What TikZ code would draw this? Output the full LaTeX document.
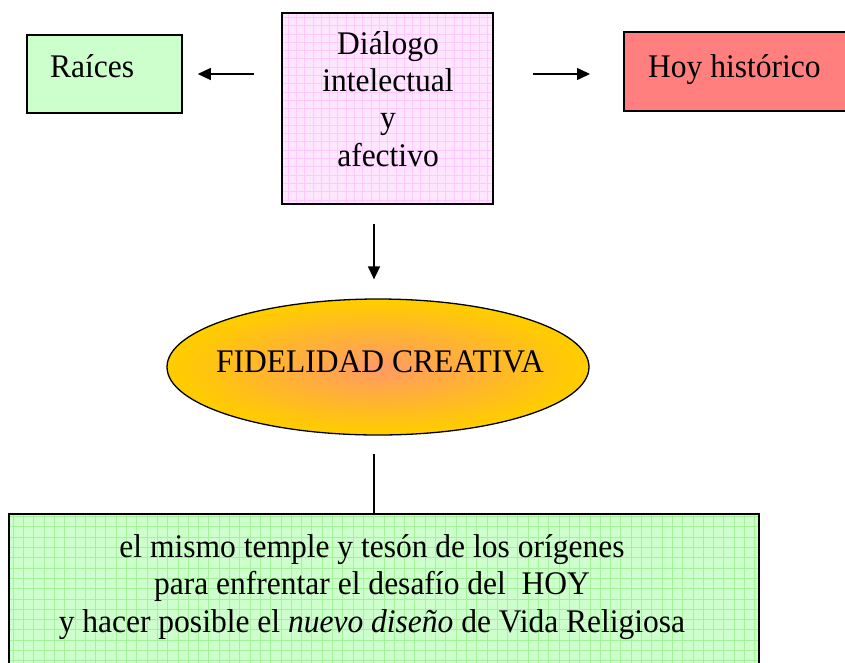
\documentclass[tikz,border=0pt]{standalone}
\usepackage{fontspec}
\setmainfont{Liberation Serif}[FakeStretch=0.955]
\usetikzlibrary{arrows.meta,shapes.geometric}
\definecolor{raicesfill}{HTML}{CCFFCC}
\definecolor{hoyfill}{HTML}{FF7F7F}
\definecolor{pinkfill}{HTML}{FFE6FF}
\definecolor{pinkgrid}{HTML}{FFC8FF}
\definecolor{greenfill}{HTML}{CCFFCC}
\definecolor{greengrid}{HTML}{A6F29A}
\definecolor{fidin}{HTML}{FF9966}
\definecolor{fidout}{HTML}{FFCC00}
\pgfdeclareradialshading{fidshade}{\pgfpoint{0bp}{0bp}}{color(0bp)=(fidin); color(24bp)=(fidout); color(50bp)=(fidout)}
\begin{document}
\begin{tikzpicture}[x=1pt,y=-1pt,
  box/.style={draw=black, line width=1.6pt, rectangle, inner sep=0pt},
  txt/.style={font=\fontsize{33}{37.3}\selectfont, inner sep=0pt, align=center},
  arr/.style={line width=1.5pt, -{Triangle[length=13pt,width=12pt]}},
  conn/.style={line width=1.5pt},
  pinkgridded/.style={path picture={\draw[pinkgrid, line width=0.6pt] (path picture bounding box.south west) grid[step=8.3pt] (path picture bounding box.north east);}},
  greengridded/.style={path picture={\draw[greengrid, line width=0.6pt] (path picture bounding box.south west) grid[step=10.3pt] (path picture bounding box.north east);}}
]
\clip (0,0) rectangle (845,662);
\fill[white] (0,0) rectangle (845,662);

% boxes
\node[box, fill=raicesfill, minimum width=155pt, minimum height=78pt] (raices) at (104.5,74) {};
\node[txt, anchor=base west] (raicestext) at (50,77.5) {Raíces};

\node[box, fill=pinkfill, pinkgridded, minimum width=211pt, minimum height=191pt] (dialogo) at (387.5,108.5) {};
\node[txt] (dialogotext) at (388,99) {Diálogo\\intelectual\\y\\afectivo};

\node[box, fill=hoyfill, minimum width=240pt, minimum height=79pt, anchor=west] (hoy) at (623,71.5) {};
\node[txt, anchor=base west] (hoytext) at (648,77) {Hoy histórico};

\node[draw=black, line width=1.3pt, ellipse, shade, shading=fidshade, minimum width=422pt, minimum height=136pt, inner sep=0pt] (fid) at (378,367) {};
\node[txt, anchor=base] (fidtext) at (380,372) {FIDELIDAD CREATIVA};

\node[box, fill=greenfill, greengridded, anchor=north west, minimum width=750pt, minimum height=170pt] (bottom) at (8,513) {};
\node[txt] (bottomtext) at (372,587) {el mismo temple y tesón de los orígenes\\para enfrentar el desafío del\ \ HOY\\y hacer posible el \textit{nuevo diseño} de Vida Religiosa};

% connectors
\coordinate (axis) at (374,0);
\draw[arr, shorten <=27pt, shorten >=15pt] (dialogo.west |- raices.east) -- (raices.east);
\draw[arr, shorten <=39pt, shorten >=33pt] (dialogo.east |- raices.east) -- (hoy.west |- raices.east);
\draw[arr, shorten <=19pt, shorten >=19pt] (dialogo.south -| axis) -- (fid.north -| axis);
\draw[conn, shorten <=18pt] (fid.south -| axis) -- (bottom.north -| axis);
\end{tikzpicture}
\end{document}
